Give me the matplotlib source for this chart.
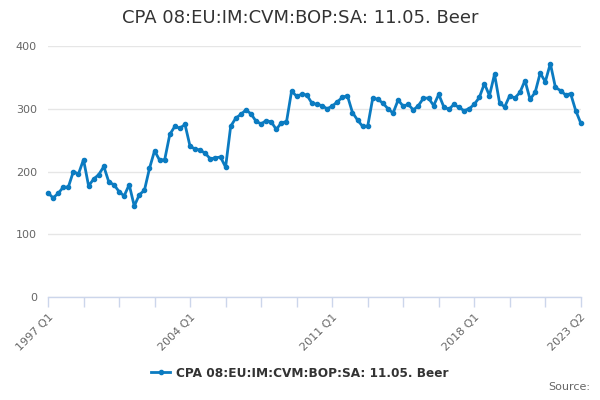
import matplotlib
matplotlib.use("Agg")
import matplotlib.pyplot as plt
from matplotlib.lines import Line2D

# quarterly values, 1997 Q1 .. 2023 Q2
values = [
    166, 158, 165, 175, 175, 200, 196, 219, 177, 188,
    195, 208, 183, 179, 168, 161, 179, 145, 163, 170,
    205, 233, 218, 219, 259, 272, 269, 275, 240, 236,
    234, 229, 220, 222, 223, 207, 272, 285, 291, 298,
    292, 280, 276, 281, 279, 267, 278, 279, 328, 320,
    323, 322, 309, 307, 305, 300, 304, 311, 318, 321,
    294, 282, 272, 272, 317, 315, 309, 300, 293, 314,
    304, 307, 298, 305, 317, 317, 305, 323, 303, 299,
    307, 302, 297, 300, 307, 318, 340, 321, 355, 309,
    303, 321, 317, 326, 345, 315, 326, 357, 343, 372,
    334, 329, 322, 324, 297, 277,
]
start_year = 1997
label_idx = [0, 28, 56, 84, 105]
series_name = "CPA 08:EU:IM:CVM:BOP:SA: 11.05. Beer"
title = "CPA 08:EU:IM:CVM:BOP:SA: 11.05. Beer"


def qlabel(i):
    return f"{start_year + i // 4} Q{i % 4 + 1}"


x = list(range(len(values)))
color = "#0b7bc1"

fig = plt.figure(figsize=(6, 4), dpi=100)
ax = fig.add_axes([0.08, 0.2575, 0.888, 0.6275])

ax.plot(x, values, color=color, lw=2, marker="o", ms=3, zorder=3, clip_on=False)

ax.set_xlim(0, len(values) - 1)
ax.set_ylim(0, 400)
ax.set_yticks([0, 100, 200, 300, 400])
ax.grid(axis="y", color="#e6e6e6", lw=1)
ax.set_axisbelow(True)

for s in ["top", "right", "left"]:
    ax.spines[s].set_visible(False)
ax.spines["bottom"].set_color("#ccd6eb")
ax.spines["bottom"].set_linewidth(1)

ax.set_xticks(list(range(0, len(values), 7)))
ax.set_xticklabels([qlabel(i) if i in label_idx else "" for i in range(0, len(values), 7)],
                   rotation=45, ha="right", rotation_mode="anchor")
ax.tick_params(axis="x", colors="#ccd6eb", length=7, width=1, labelcolor="#666666",
               labelsize=8, pad=4)
ax.tick_params(axis="y", length=0, labelcolor="#666666", labelsize=8, pad=8)

fig.text(0.5, 0.955, title, ha="center", va="center", fontsize=13, color="#333333")

handle = Line2D([], [], color=color, lw=2, marker="o", ms=3)
fig.legend([handle], [series_name], loc="center", bbox_to_anchor=(0.5, 0.067),
           frameon=False, prop={"size": 8.7, "weight": "bold"}, handlelength=1.6,
           handletextpad=0.5, labelcolor="#333333")

fig.text(0.983, 0.02, "Source:", ha="right", va="bottom", fontsize=8, color="#666666")

fig.savefig("out.png", dpi=100)
